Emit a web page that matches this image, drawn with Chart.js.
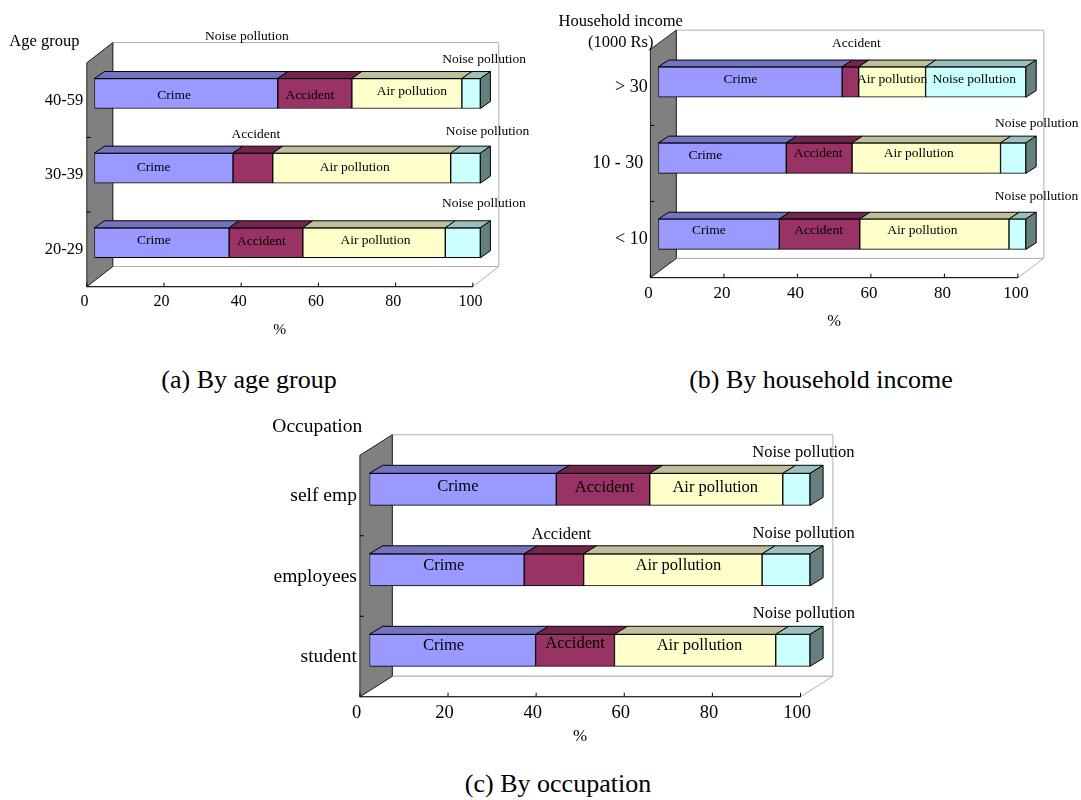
<!DOCTYPE html>
<html lang="en">
<head>
  <meta charset="UTF-8">
  <title>Perceived risks by group</title>
  <script src="https://cdn.jsdelivr.net/npm/chart.js"></script>
  <style>
    body { margin: 0; background: #fff; }
    #page { position: relative; width: 1081px; height: 800px; overflow: hidden; background: #fff; }
    canvas { position: absolute; }
    .caption {
      position: absolute; white-space: nowrap; color: #000;
      font: 26px/1 "Liberation Serif", "Times New Roman", serif;
      transform: translateX(-50%);
    }
  </style>
</head>
<body>
<div id="page">
  <canvas id="ageChart" width="540" height="345" style="left:0;top:0"></canvas>
  <canvas id="incomeChart" width="541" height="345" style="left:540px;top:0"></canvas>
  <canvas id="occChart" width="610" height="340" style="left:260px;top:410px"></canvas>
  <div class="caption" style="left:249px;top:367px">(a) By age group</div>
  <div class="caption" style="left:821px;top:367px">(b) By household income</div>
  <div class="caption" style="left:558px;top:771px">(c) By occupation</div>
</div>

<script>
  // series shown in every panel, left to right
  const seriesNames = ['Crime', 'Accident', 'Air pollution', 'Noise pollution'];

  // (a) age group, %
  const ageGroups = ['40-59', '30-39', '20-29'];
  const ageCrime = [47.5, 35.9, 34.9];
  const ageAccident = [19.2, 10.3, 19.1];
  const ageAir = [28.5, 46.1, 36.9];
  const ageNoise = [4.8, 7.7, 9.1];

  // (b) household income (1000 Rs), %
  const incomeGroups = ['> 30', '10 - 30 ', '< 10'];
  const incomeCrime = [50.0, 34.8, 32.9];
  const incomeAccident = [4.5, 17.9, 21.9];
  const incomeAir = [18.2, 40.4, 40.6];
  const incomeNoise = [27.3, 6.9, 4.6];

  // (c) occupation, %
  const occupations = ['self emp', 'employees', 'student'];
  const occCrime = [42.4, 35.1, 37.7];
  const occAccident = [21.2, 13.5, 17.9];
  const occAir = [30.2, 40.5, 36.6];
  const occNoise = [6.2, 10.9, 7.8];

  const xStep = 20;

  // face colours: front, top (shaded), right side (darker)
  const frontColors = ['#9999FF', '#993366', '#FFFFCC', '#CCFFFF'];
  const topColors = ['#7373BF', '#73264D', '#BFBF99', '#99BFBF'];
  const sideColors = ['#4D4D80', '#4D1A33', '#808066', '#668080'];

  const serif = '"Liberation Serif", "Times New Roman", serif';
  Chart.defaults.font.family = serif;
  Chart.defaults.color = '#000';

  function poly(ctx, pts) {
    ctx.beginPath();
    ctx.moveTo(pts[0][0], pts[0][1]);
    for (let i = 1; i < pts.length; i++) ctx.lineTo(pts[i][0], pts[i][1]);
    ctx.closePath();
  }

  // walls, floor and bar extrusions for the fake 3d look
  function box3d(cfg) {
    return {
      id: 'box3d',
      beforeDatasetsDraw(chart) {
        const { ctx, chartArea: a, scales: { x, y } } = chart;
        const f = cfg.front, b = cfg.back;
        const w = a.right - a.left, h = a.bottom - a.top;
        ctx.save();
        ctx.lineWidth = 1;

        // back wall
        ctx.fillStyle = '#fff';
        ctx.strokeStyle = '#b0b0b0';
        ctx.beginPath();
        ctx.rect(a.left + b[0], a.top + b[1], w, h);
        ctx.fill();
        ctx.stroke();

        // floor
        poly(ctx, [[a.left + f[0], a.bottom + f[1]], [a.right + f[0], a.bottom + f[1]],
                   [a.right + b[0], a.bottom + b[1]], [a.left + b[0], a.bottom + b[1]]]);
        ctx.fill();
        ctx.stroke();

        // left wall
        poly(ctx, [[a.left + f[0], a.bottom + f[1]], [a.left + f[0], a.top + f[1]],
                   [a.left + b[0], a.top + b[1]], [a.left + b[0], a.bottom + b[1]]]);
        ctx.fillStyle = '#808080';
        ctx.fill();
        ctx.strokeStyle = '#222';
        ctx.stroke();

        // category ticks on the wall
        const n = chart.data.labels.length;
        ctx.strokeStyle = '#000';
        for (let i = 0; i < n - 1; i++) {
          const yy = (y.getPixelForValue(i) + y.getPixelForValue(i + 1)) / 2 + f[1];
          ctx.beginPath();
          ctx.moveTo(a.left + f[0], yy);
          ctx.lineTo(a.left + f[0] + 4, yy);
          ctx.stroke();
        }

        // front edge of the floor with value ticks
        const fy = a.bottom + f[1];
        ctx.beginPath();
        ctx.moveTo(a.left + f[0], fy);
        ctx.lineTo(a.right + f[0], fy);
        ctx.stroke();
        x.ticks.forEach(t => {
          const px = x.getPixelForValue(t.value) + f[0];
          ctx.beginPath();
          ctx.moveTo(px, fy);
          ctx.lineTo(px, fy - 4);
          ctx.stroke();
        });
        ctx.restore();
      },
      afterDatasetsDraw(chart) {
        const { ctx, chartArea: a, scales: { x } } = chart;
        const d = cfg.depth;
        const last = chart.data.datasets.length - 1;
        ctx.save();
        ctx.lineWidth = 1;
        ctx.strokeStyle = '#000';

        chart.data.datasets.forEach((ds, i) => {
          chart.getDatasetMeta(i).data.forEach(el => {
            const p = el.getProps(['x', 'y', 'base', 'height'], true);
            const top = p.y - p.height / 2;
            poly(ctx, [[p.base, top], [p.x, top], [p.x + d[0], top + d[1]], [p.base + d[0], top + d[1]]]);
            ctx.fillStyle = topColors[i];
            ctx.fill();
            ctx.stroke();
            if (i === last) {
              poly(ctx, [[p.x, top], [p.x + d[0], top + d[1]], [p.x + d[0], top + p.height + d[1]], [p.x, top + p.height]]);
              ctx.fillStyle = sideColors[i];
              ctx.fill();
              ctx.stroke();
            }
          });
        });

        // segment names
        ctx.fillStyle = '#000';
        ctx.textAlign = 'center';
        ctx.textBaseline = 'middle';
        ctx.font = cfg.labelSize + 'px ' + serif;
        chart.data.datasets.forEach((ds, i) => {
          chart.getDatasetMeta(i).data.forEach((el, j) => {
            const nudge = cfg.nudges[i][j];
            if (!nudge) return;
            const p = el.getProps(['x', 'y', 'base'], true);
            ctx.fillText(seriesNames[i], (p.x + p.base) / 2 + nudge[0], p.y + nudge[1]);
          });
        });
        (cfg.extras || []).forEach(e => {
          ctx.fillText(e.text, x.getPixelForValue(e.at), a.top + e.dy);
        });

        // axis titles
        ctx.font = cfg.titleSize + 'px ' + serif;
        cfg.yTitle.forEach(t => ctx.fillText(t.text, a.left + t.dx, a.top + t.dy));
        ctx.font = cfg.unitSize + 'px ' + serif;
        ctx.fillText('%', (a.left + a.right) / 2 + cfg.front[0], a.bottom + cfg.unitDy);
        ctx.restore();
      }
    };
  }

  function makePanel(id, categories, values, cfg) {
    return new Chart(document.getElementById(id), {
      type: 'bar',
      data: {
        labels: categories,
        datasets: values.map((vals, i) => ({
          label: seriesNames[i],
          data: vals,
          backgroundColor: frontColors[i],
          borderColor: '#000',
          borderWidth: 1,
          borderSkipped: false,
          barThickness: cfg.barThickness
        }))
      },
      options: {
        indexAxis: 'y',
        responsive: false,
        animation: false,
        devicePixelRatio: 1,
        layout: { padding: { top: cfg.padTop, right: cfg.padRight, left: 0, bottom: 0 } },
        plugins: { legend: { display: false }, tooltip: { enabled: false } },
        scales: {
          x: {
            stacked: true,
            min: 0,
            max: 100,
            grid: { display: false, drawTicks: false },
            border: { display: false },
            ticks: { stepSize: xStep, labelOffset: cfg.xLabelShift, padding: cfg.xPad, font: { size: cfg.tickSize } },
            afterFit: s => { s.height = cfg.xAxisHeight; }
          },
          y: {
            stacked: true,
            grid: { display: false, drawTicks: false },
            border: { display: false },
            ticks: { labelOffset: cfg.yLabelShift, padding: cfg.yPad, font: { size: cfg.catSize } },
            afterFit: s => { s.width = cfg.yAxisWidth; }
          }
        }
      },
      plugins: [box3d(cfg)]
    });
  }

  makePanel('ageChart', ageGroups, [ageCrime, ageAccident, ageAir, ageNoise], {
    padTop: 56.2, padRight: 59.6, yAxisWidth: 94.4, xAxisHeight: 64.9,
    barThickness: 30,
    front: [-7.6, 6.6], back: [18.4, -13.6], depth: [10, -7],
    xLabelShift: -10, xPad: 12, tickSize: 16,
    yLabelShift: 7, yPad: 11.1, catSize: 16.5,
    labelSize: 13.5, titleSize: 16.5, unitSize: 15.5, unitDy: 49.5,
    yTitle: [{ text: 'Age group', dx: -50, dy: -14.5 }],
    nudges: [
      [[-12, 2], [-10, -1], [-8, -2]],
      [[-5, 2], [3, -34], [-4.5, -1]],
      [[5, -2], [-7, -1], [1.5, -2]],
      [[13, -34.2], [22, -36.6], [21, -39.5]]
    ],
    extras: [{ text: 'Noise pollution', at: 39.5, dy: -19.5 }]
  });

  makePanel('incomeChart', incomeGroups, [incomeCrime, incomeAccident, incomeAir, incomeNoise], {
    padTop: 43.95, padRight: 55.1, yAxisWidth: 118.4, xAxisHeight: 72.75,
    barThickness: 30.5,
    front: [-8, 5.4], back: [17.9, -13.8], depth: [10.3, -6.7],
    xLabelShift: -10, xPad: 11.5, tickSize: 17,
    yLabelShift: 5.4, yPad: 10.7, catSize: 18,
    labelSize: 13.5, titleSize: 16.5, unitSize: 16.5, unitDy: 49.5,
    yTitle: [{ text: 'Household income', dx: -37.7, dy: -22.25 }, { text: '(1000 Rs)', dx: -37.7, dy: -1.25 }],
    nudges: [
      [[-10, -2.7], [-17, -2.3], [-10, -4.2]],
      [[6, -38.7], [-1, -5], [-1, -4.2]],
      [[0, -2.7], [-7.6, -5], [-12, -4.2]],
      [[-1.5, -2.7], [23.5, -35], [19, -38.2]]
    ]
  });

  makePanel('occChart', occupations, [occCrime, occAccident, occAir, occNoise], {
    padTop: 39.05, padRight: 59.9, yAxisWidth: 109.5, xAxisHeight: 59.45,
    barThickness: 32,
    front: [-9.6, 6.2], back: [22.8, -14.3], depth: [13, -8],
    xLabelShift: -13, xPad: 11.5, tickSize: 18.5,
    yLabelShift: 6.9, yPad: 12.6, catSize: 19.5,
    labelSize: 16.5, titleSize: 19.5, unitSize: 17, unitDy: 45.5,
    yTitle: [{ text: 'Occupation', dx: -52.2, dy: -21.75 }],
    nudges: [
      [[-5, -3], [-3, -3.8], [-9, -4.3]],
      [[1.6, -2], [7.5, -35.5], [0, -7]],
      [[-1, -2], [5.5, -3.8], [4.4, -4.3]],
      [[7, -36.6], [17.6, -36.5], [11, -37]]
    ]
  });
</script>
</body>
</html>
